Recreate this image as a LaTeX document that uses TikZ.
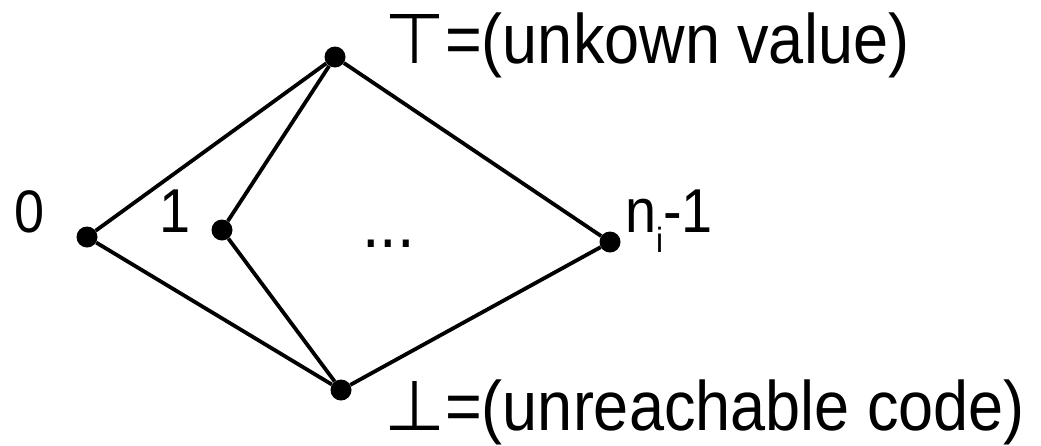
\documentclass[tikz,border=0pt]{standalone}
\usepackage{fontspec}
\setmainfont{Liberation Sans}[FakeStretch=0.9]
\newfontfamily\symfont{DejaVu Sans}
\begin{document}
\begin{tikzpicture}[x=1pt,y=-1pt,
  dot/.style={circle, fill=black, inner sep=0pt, minimum size=21pt},
  edge/.style={line width=3.8pt, black},
  lbl/.style={anchor=base west, inner sep=0pt, font=\fontsize{62}{62}\selectfont},
  big/.style={anchor=base west, inner sep=0pt, font=\fontsize{70}{70}\selectfont}]
\useasboundingbox (0,0) rectangle (1041,445);
\node[dot] (top) at (335,57) {};
\node[dot] (n0) at (87,237) {};
\node[dot] (n1) at (222,230) {};
\node[dot] (nk) at (610,242) {};
\node[dot] (bot) at (341,390) {};
\draw[edge] (top) -- (n0);
\draw[edge] (top) -- (n1);
\draw[edge] (top) -- (nk);
\draw[edge] (bot) -- (n0);
\draw[edge] (bot) -- (n1);
\draw[edge] (bot) -- (nk);
\node[lbl, font=\fontsize{60}{60}\selectfont] (l0) at (14,232) {0};
\node[lbl] (l1) at (159,232) {1};
\node[lbl, font=\fontsize{70}{70}\selectfont] (ldots) at (362,247) {...};
\node[lbl] (lk) at (625,232) {n\raisebox{-20pt}{\fontsize{35}{35}\selectfont i}-1};
\node[big] (ltop) at (384,63) {{\symfont ⊤}=(unkown value)};
\node[big] (lbot) at (384,430) {{\symfont ⊥}=(unreachable code)};
\end{tikzpicture}
\end{document}
